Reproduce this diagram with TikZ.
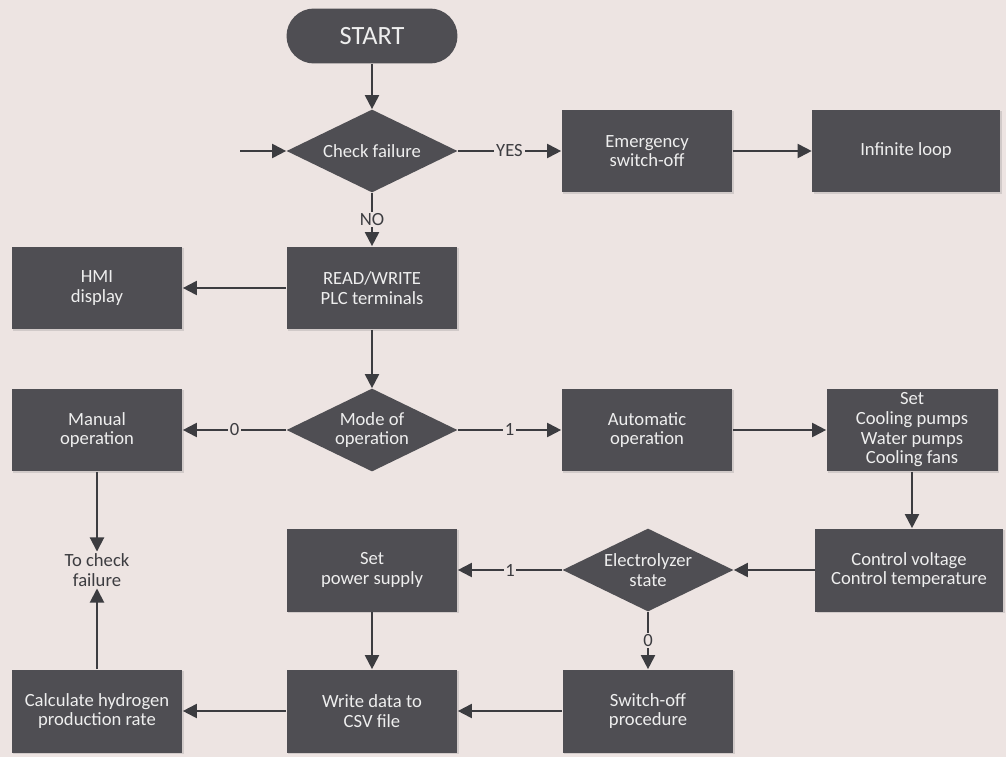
\documentclass[tikz,border=0pt]{standalone}
\usepackage{fontspec}
\setmainfont{Carlito}
\usetikzlibrary{shapes.geometric,arrows.meta,shadows}

\definecolor{pagebg}{RGB}{237,228,226}
\definecolor{boxgray}{RGB}{79,78,83}
\definecolor{linegray}{RGB}{60,60,64}
\definecolor{boxtext}{RGB}{238,238,238}

\tikzset{
  flowfont/.style={font=\fontsize{10.6}{11.2}\selectfont},
  procbox/.style={rectangle, fill=boxgray, text=boxtext, flowfont, align=center,
    minimum width=3.42cm, minimum height=1.66cm, inner sep=1pt,
    drop shadow={shadow xshift=1pt, shadow yshift=-1pt, opacity=0.25}},
  decision/.style={diamond, fill=boxgray, text=boxtext, flowfont, align=center,
    aspect=2.07, minimum width=3.42cm, minimum height=1.66cm, inner sep=0pt},
  termnode/.style={rectangle, rounded corners=0.55cm, fill=boxgray, text=boxtext,
    font=\fontsize{15}{17}\selectfont, minimum width=3.42cm, minimum height=1.1cm},
  plaintext/.style={text=linegray, flowfont, align=center, inner sep=1pt},
  flowline/.style={draw=linegray, line width=1.1pt,
    -{Triangle[length=8pt,width=8pt]}},
  linelabel/.style={fill=pagebg, text=linegray, flowfont, inner sep=1pt}
}

\begin{document}
\begin{tikzpicture}[x=0.02cm, y=-0.02cm]
  \useasboundingbox[fill=pagebg] (0,0) rectangle (1006,757);

  % Top row
  \node[termnode] (start) at (372,36) {START};
  \node[decision] (check) at (372,151) {Check failure};
  \node[procbox] (emerg) at (647,151) {Emergency\\switch-off};
  \node[procbox, minimum width=3.76cm] (infloop) at (906,151) {Infinite loop};
  \coordinate (loopin) at (240,151);

  % Second row
  \node[procbox] (plcio) at (372,288) {READ/WRITE\\PLC terminals};
  \node[procbox] (hmi) at (97,288) {HMI\\display};

  % Third row
  \node[decision] (mode) at (372,430) {Mode of\\operation};
  \node[procbox] (manual) at (97,430) {Manual\\operation};
  \node[procbox] (auto) at (647,430) {Automatic\\operation};
  \node[procbox, inner sep=0pt] (cooling) at (912,430) {Set\\Cooling pumps\\Water pumps\\Cooling fans};

  % Fourth row
  \node[procbox, minimum width=3.76cm] (control) at (909,570) {Control voltage\\Control temperature};
  \node[decision] (elstate) at (648,570) {Electrolyzer\\state};
  \node[procbox] (power) at (372,570) {Set\\power supply};
  \node[plaintext] (tocheck) at (97,570) {To check\\failure};

  % Bottom row
  \node[procbox] (switchoff) at (648,711) {Switch-off\\procedure};
  \node[procbox] (csv) at (372,711) {Write data to\\CSV file};
  \node[procbox] (hrate) at (97,711) {Calculate hydrogen\\production rate};

  % Connectors
  \draw[flowline] (start) -- (check);
  \draw[flowline] (loopin) -- (check.west);
  \draw[flowline] (check.east) -- node[linelabel] {YES} (emerg.west);
  \draw[flowline] (emerg) -- (infloop);
  \draw[flowline] (check.south) -- node[linelabel] {NO} (plcio.north);
  \draw[flowline] (plcio) -- (hmi);
  \draw[flowline] (plcio) -- (mode.north);
  \draw[flowline] (mode.west) -- node[linelabel] {0} (manual.east);
  \draw[flowline] (mode.east) -- node[linelabel] {1} (auto.west);
  \draw[flowline] (auto) -- (cooling);
  \draw[flowline] (cooling.south) -- (cooling.south |- control.north);
  \draw[flowline] (control.west |- elstate) -- (elstate.east);
  \draw[flowline] (elstate.west) -- node[linelabel] {1} (power.east);
  \draw[flowline] (elstate.south) -- node[linelabel] {0} (switchoff.north);
  \draw[flowline] (power) -- (csv);
  \draw[flowline] (switchoff) -- (csv);
  \draw[flowline] (csv) -- (hrate);
  \draw[flowline] (manual) -- (tocheck);
  \draw[flowline] (hrate) -- (tocheck);
\end{tikzpicture}
\end{document}
